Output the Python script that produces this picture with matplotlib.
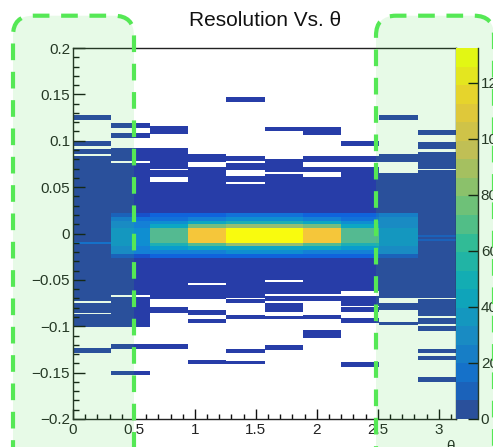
import numpy as np
import matplotlib
matplotlib.use('Agg')
import matplotlib.pyplot as plt
from matplotlib.colors import LinearSegmentedColormap, ListedColormap, BoundaryNorm
from matplotlib.patches import FancyBboxPatch
from matplotlib.ticker import MultipleLocator, FuncFormatter

plt.rcParams['font.family'] = ['Liberation Sans', 'DejaVu Sans']

# --- data ----------------------------------------------------------------
n_theta = 10                      # theta bins over 0..pi

# populated band of each theta bin (low edge, high edge) in resolution
block_lo = [-0.101, -0.101, -0.071, -0.071, -0.075, -0.0735, -0.073, -0.078, -0.082, -0.105]
block_hi = [0.091, 0.092, 0.092, 0.0865, 0.084, 0.080, 0.084, 0.084, 0.0865, 0.0885]

# isolated single-count strips outside the band
strips = [
    [(0.122, 0.1285), (0.0935, 0.0995), (-0.1285, -0.1235)],
    [(0.114, 0.1195), (0.1025, 0.108), (-0.125, -0.1195), (-0.153, -0.148)],
    [(0.107, 0.116), (-0.086, -0.079), (-0.125, -0.1195)],
    [(-0.088, -0.083), (-0.097, -0.092), (-0.1405, -0.1355)],
    [(0.142, 0.1475), (-0.0925, -0.088), (-0.1285, -0.1245), (-0.141, -0.137)],
    [(0.110, 0.115), (-0.085, -0.0755), (-0.0925, -0.089), (-0.126, -0.120)],
    [(0.106, 0.115), (-0.0925, -0.088), (-0.113, -0.104)],
    [(0.094, 0.0995), (-0.085, -0.0795), (-0.0955, -0.091), (-0.1445, -0.139)],
    [(0.122, 0.128), (-0.099, -0.095)],
    [(0.106, 0.1115), (0.0905, 0.099), (-0.1285, -0.124), (-0.136, -0.132), (-0.160, -0.1555)],
]

# empty rows inside the band
holes = [
    [(0.0845, 0.0865), (-0.0755, -0.0735), (-0.0875, -0.0855)],
    [(0.076, 0.078), (-0.068, -0.066)],
    [(0.0685, 0.0705), (0.056, 0.0615)],
    [(0.072, 0.0775), (-0.055, -0.053)],
    [(0.076, 0.078), (0.062, 0.069), (0.053, 0.055), (-0.0715, -0.0695)],
    [(0.064, 0.066), (-0.052, -0.050), (-0.067, -0.065)],
    [(0.072, 0.077), (0.061, 0.066), (-0.067, -0.065)],
    [(0.072, 0.077), (-0.0665, -0.0615)],
    [(0.065, 0.0775), (-0.075, -0.0705)],
    [(0.068, 0.070), (-0.0715, -0.0695), (-0.0915, -0.0895), (-0.0995, -0.0975)],
]

# faint brighter rows: (theta bin, low, high, counts)
faint = [(0, -0.0115, -0.0095, 14), (9, -0.0045, -0.0025, 12), (9, -0.008, -0.006, 10)]

# counts near zero, rows of 0.004 starting at -0.030 (bottom to top)
core_lo = -0.030
core_step = 0.004
core = [
    [0] * 14,
    [2, 12, 28, 32, 34, 38, 38, 38, 36, 33, 30, 26, 10, 2],
    [2, 14, 28, 40, 56, 70, 72, 72, 70, 52, 38, 26, 14, 4],
    [4, 16, 32, 48, 72, 108, 112, 112, 108, 74, 50, 32, 18, 6],
    [5, 18, 34, 52, 80, 128, 132, 132, 128, 82, 54, 34, 20, 6],
    [5, 18, 34, 52, 80, 128, 132, 132, 128, 82, 54, 34, 20, 6],
    [4, 16, 32, 48, 72, 108, 112, 112, 108, 74, 50, 32, 18, 6],
    [2, 14, 28, 40, 56, 70, 72, 72, 70, 52, 38, 26, 14, 4],
    [2, 12, 28, 32, 34, 38, 38, 38, 36, 33, 30, 28, 20, 6],
    [0] * 14,
]
fill_value = 2
zmax = 132.4
cbar_ticks = [0, 20, 40, 60, 80, 100, 120]

# --- build histogram -----------------------------------------------------
theta_edges = np.linspace(0, np.pi, n_theta + 1)
res_edges = np.linspace(-0.2, 0.2, 401)
res_mid = 0.5 * (res_edges[:-1] + res_edges[1:])
z = np.zeros((len(res_mid), n_theta))
for i in range(n_theta):
    col = z[:, i]
    col[(res_mid >= block_lo[i]) & (res_mid < block_hi[i])] = fill_value
    for lo, hi in strips[i]:
        col[(res_mid >= lo) & (res_mid < hi)] = fill_value
    for lo, hi in holes[i]:
        col[(res_mid >= lo) & (res_mid < hi)] = 0
    for k, v in enumerate(core[i]):
        lo = core_lo + k * core_step
        sel = (res_mid >= lo) & (res_mid < lo + core_step)
        col[sel] = np.maximum(col[sel], v)
for i, lo, hi, v in faint:
    z[(res_mid >= lo) & (res_mid < hi), i] = v

# ROOT kBird palette, 20 contour levels
stops = [0.0, 0.125, 0.25, 0.375, 0.5, 0.625, 0.75, 0.875, 1.0]
red = [0.2082, 0.0592, 0.0780, 0.0232, 0.1802, 0.5301, 0.8186, 0.9956, 0.9764]
green = [0.1664, 0.3599, 0.5041, 0.6419, 0.7178, 0.7492, 0.7328, 0.7862, 0.9832]
blue = [0.5293, 0.8684, 0.8385, 0.7914, 0.6425, 0.4662, 0.3498, 0.1968, 0.0539]
bird = LinearSegmentedColormap.from_list('bird', list(zip(stops, zip(red, green, blue))))
nlev = 20
cmap = ListedColormap([bird(int((i + 0.99) * 255 / nlev) / 254) for i in range(nlev)])
norm = BoundaryNorm(np.linspace(0, zmax, nlev + 1), nlev)

# --- draw ----------------------------------------------------------------
W, H = 493, 447
fig = plt.figure(figsize=(W / 100, H / 100), dpi=100)
ax = fig.add_axes([73 / W, 28 / H, 383 / W, 371 / H])
mesh = ax.pcolormesh(theta_edges, res_edges, np.ma.masked_equal(z, 0),
                     cmap=cmap, norm=norm, antialiased=False)
ax.set_xlim(0, np.pi)
ax.set_ylim(-0.2, 0.2)
ax.xaxis.set_major_locator(MultipleLocator(0.5))
ax.xaxis.set_minor_locator(MultipleLocator(0.1))
ax.yaxis.set_major_locator(MultipleLocator(0.05))
ax.yaxis.set_minor_locator(MultipleLocator(0.01))


def fmt(v, pos):
    s = '0' if abs(v) < 1e-9 else f'{v:g}'
    return s.replace('-', '\u2212')


ax.xaxis.set_major_formatter(FuncFormatter(fmt))
ax.yaxis.set_major_formatter(FuncFormatter(fmt))
ax.tick_params(which='both', direction='in', top=False, right=False,
               labelsize=11, labelcolor='#222222', color='#111111', width=1)
ax.tick_params(axis='y', which='major', length=8.4, pad=2)
ax.tick_params(axis='y', which='minor', length=4.3)
ax.tick_params(axis='x', which='major', length=7.2, pad=3)
ax.tick_params(axis='x', which='minor', length=3.6)
for sp in ax.spines.values():
    sp.set_linewidth(1.0)
    sp.set_color('#222222')

cax = fig.add_axes([456 / W, 28 / H, 22 / W, 371 / H])
cb = fig.colorbar(mesh, cax=cax, ticks=cbar_ticks)
cb.outline.set_visible(False)
cb.minorticks_off()
cax.tick_params(direction='in', length=7.5, width=1, labelsize=11, pad=2,
                labelcolor='#222222', color='#111111')
cax.plot([1, 1], [0, 1], transform=cax.transAxes, color='#222222', lw=1, clip_on=False)

fig.text(265 / W, 1 - 26.5 / H, 'Resolution Vs. \u03b8', ha='center', va='baseline',
         fontsize=15, color='#111111')
fig.text(450 / W, 1 - 440 / H, '\u03b8', ha='center', va='top', fontsize=11, color='#222222')

# highlighted regions
for x0, x1 in [(13, 134), (376, 494)]:
    box = FancyBboxPatch((x0 / 100, -0.5), (x1 - x0) / 100, (H - 15.7) / 100 + 0.5,
                         boxstyle='round,pad=0,rounding_size=0.2',
                         transform=fig.dpi_scale_trans,
                         facecolor=(0.25, 0.87, 0.25, 0.12),
                         edgecolor='#55e855', lw=3, linestyle=(0, (4.0, 2.8)),
                         zorder=10)
    fig.add_artist(box)

fig.savefig('out.png', dpi=100)
